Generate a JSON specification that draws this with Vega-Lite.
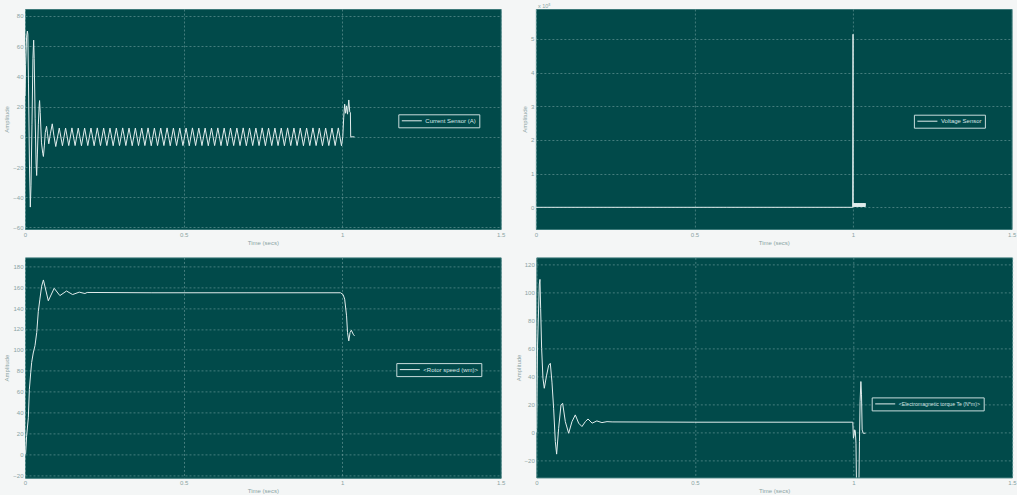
{
  "$schema": "https://vega.github.io/schema/vega-lite/v6.json",
  "background": "#f4f6f6",
  "padding": {"left": 3, "top": 3, "right": 0, "bottom": 0},
  "spacing": 10.4,
  "datasets": {
    "cur": [
      {"t":0,"v":27},{"t":0.002,"v":48},{"t":0.005,"v":66},{"t":0.0074,"v":70},{"t":0.009,"v":68},{"t":0.011,"v":35},{"t":0.014,"v":-18},{"t":0.0168,"v":-46.5},{"t":0.019,"v":-32},{"t":0.022,"v":8},{"t":0.025,"v":52},{"t":0.0273,"v":64},{"t":0.029,"v":52},{"t":0.032,"v":12},{"t":0.035,"v":-18},{"t":0.0368,"v":-25.6},{"t":0.039,"v":-12},{"t":0.042,"v":8},{"t":0.045,"v":22},{"t":0.046,"v":24},{"t":0.048,"v":16},{"t":0.052,"v":-4},{"t":0.056,"v":-11},{"t":0.058,"v":-13},{"t":0.061,"v":-6},{"t":0.064,"v":3},{"t":0.068,"v":7},{"t":0.071,"v":2},{"t":0.075,"v":-4.6},{"t":0.08,"v":2},{"t":0.086,"v":8.6},{"t":0.091,"v":1},{"t":0.097,"v":-6.4},
      {"t":0.108,"v":5.8},{"t":0.118,"v":-5.9},{"t":0.128,"v":5.8},{"t":0.138,"v":-5.8},{"t":0.148,"v":5.9},{"t":0.158,"v":-5.8},{"t":0.168,"v":5.8},{"t":0.178,"v":-5.9},{"t":0.188,"v":5.8},{"t":0.198,"v":-5.8},
      {"t":0.208,"v":5.8},{"t":0.218,"v":-5.9},{"t":0.228,"v":5.9},{"t":0.238,"v":-5.8},{"t":0.248,"v":5.8},{"t":0.258,"v":-5.8},{"t":0.268,"v":5.8},{"t":0.278,"v":-5.9},{"t":0.288,"v":5.8},{"t":0.298,"v":-5.8},
      {"t":0.308,"v":5.9},{"t":0.318,"v":-5.8},{"t":0.328,"v":5.8},{"t":0.338,"v":-5.9},{"t":0.348,"v":5.8},{"t":0.358,"v":-5.8},{"t":0.368,"v":5.8},{"t":0.378,"v":-5.8},{"t":0.388,"v":5.9},{"t":0.398,"v":-5.9},
      {"t":0.408,"v":5.8},{"t":0.418,"v":-5.8},{"t":0.428,"v":5.8},{"t":0.438,"v":-5.8},{"t":0.448,"v":5.9},{"t":0.458,"v":-5.9},{"t":0.468,"v":5.8},{"t":0.478,"v":-5.8},{"t":0.488,"v":5.8},{"t":0.498,"v":-5.8},
      {"t":0.508,"v":5.8},{"t":0.518,"v":-5.9},{"t":0.528,"v":5.9},{"t":0.538,"v":-5.8},{"t":0.548,"v":5.8},{"t":0.558,"v":-5.8},{"t":0.568,"v":5.8},{"t":0.578,"v":-5.9},{"t":0.588,"v":5.8},{"t":0.598,"v":-5.8},
      {"t":0.608,"v":5.9},{"t":0.618,"v":-5.8},{"t":0.628,"v":5.8},{"t":0.638,"v":-5.9},{"t":0.648,"v":5.8},{"t":0.658,"v":-5.8},{"t":0.668,"v":5.8},{"t":0.678,"v":-5.8},{"t":0.688,"v":5.9},{"t":0.698,"v":-5.9},
      {"t":0.708,"v":5.8},{"t":0.718,"v":-5.8},{"t":0.728,"v":5.8},{"t":0.738,"v":-5.8},{"t":0.748,"v":5.9},{"t":0.758,"v":-5.9},{"t":0.768,"v":5.8},{"t":0.778,"v":-5.8},{"t":0.788,"v":5.8},{"t":0.798,"v":-5.8},
      {"t":0.808,"v":5.8},{"t":0.818,"v":-5.9},{"t":0.828,"v":5.9},{"t":0.838,"v":-5.8},{"t":0.848,"v":5.8},{"t":0.858,"v":-5.8},{"t":0.868,"v":5.8},{"t":0.878,"v":-5.9},{"t":0.888,"v":5.8},{"t":0.898,"v":-5.8},
      {"t":0.908,"v":5.9},{"t":0.918,"v":-5.8},{"t":0.928,"v":5.8},{"t":0.938,"v":-5.9},{"t":0.948,"v":5.8},{"t":0.958,"v":-5.8},{"t":0.968,"v":5.8},{"t":0.978,"v":-5.8},{"t":0.988,"v":5.9},{"t":0.998,"v":-5.9},
      {"t":1.002,"v":0},{"t":1.005,"v":13},{"t":1.008,"v":21.6},{"t":1.011,"v":15.6},{"t":1.014,"v":20.5},{"t":1.017,"v":15},{"t":1.021,"v":24.4},{"t":1.024,"v":16.5},{"t":1.026,"v":16},{"t":1.027,"v":0},{"t":1.039,"v":0}
    ],
    "volt": [
      {"t":0,"v":0},{"t":0.3,"v":0},{"t":0.6,"v":0},{"t":0.999,"v":0},{"t":1.0,"v":514000},{"t":1.0005,"v":2000},
      {"t":1.001,"v":12000},{"t":1.002,"v":1500},{"t":1.003,"v":12000},{"t":1.004,"v":1500},{"t":1.005,"v":12000},{"t":1.006,"v":1500},{"t":1.007,"v":12000},{"t":1.008,"v":1500},{"t":1.009,"v":12000},{"t":1.01,"v":1500},
      {"t":1.011,"v":12000},{"t":1.012,"v":1500},{"t":1.013,"v":12000},{"t":1.014,"v":1500},{"t":1.015,"v":12000},{"t":1.016,"v":1500},{"t":1.017,"v":12000},{"t":1.018,"v":1500},{"t":1.019,"v":12000},{"t":1.02,"v":1500},
      {"t":1.021,"v":12000},{"t":1.022,"v":1500},{"t":1.023,"v":12000},{"t":1.024,"v":1500},{"t":1.025,"v":12000},{"t":1.026,"v":1500},{"t":1.027,"v":12000},{"t":1.028,"v":1500},{"t":1.029,"v":12000},{"t":1.03,"v":1500},
      {"t":1.031,"v":12000},{"t":1.032,"v":1500},{"t":1.033,"v":12000},{"t":1.034,"v":1500},{"t":1.035,"v":12000},{"t":1.036,"v":1500},{"t":1.037,"v":12000},{"t":1.038,"v":1500},{"t":1.039,"v":12000}
    ],
    "speed": [
      {"t":0,"v":0},{"t":0.002,"v":0.5},{"t":0.005,"v":17},{"t":0.0105,"v":35},{"t":0.0137,"v":62},{"t":0.018,"v":78},{"t":0.021,"v":88},{"t":0.026,"v":97},{"t":0.0315,"v":104},{"t":0.037,"v":116.6},{"t":0.042,"v":137},{"t":0.047,"v":148.6},{"t":0.0525,"v":161},{"t":0.058,"v":167},{"t":0.0735,"v":147},{"t":0.092,"v":159},{"t":0.11,"v":152},{"t":0.131,"v":156.4},{"t":0.15,"v":153},{"t":0.171,"v":155.3},{"t":0.189,"v":154},{"t":0.196,"v":155},{"t":0.4,"v":154.7},{"t":0.7,"v":154.7},{"t":0.995,"v":154.7},{"t":1.003,"v":153},{"t":1.008,"v":148.6},{"t":1.014,"v":132.6},{"t":1.017,"v":116.6},{"t":1.021,"v":108.6},{"t":1.025,"v":116.6},{"t":1.029,"v":118.8},{"t":1.035,"v":115},{"t":1.039,"v":113.4}
    ],
    "torque": [
      {"t":0,"v":0},{"t":0.001,"v":3},{"t":0.004,"v":62.5},{"t":0.0095,"v":106},{"t":0.0116,"v":109.3},{"t":0.0137,"v":88.6},{"t":0.0168,"v":60},{"t":0.021,"v":38.7},{"t":0.0252,"v":31.6},{"t":0.0326,"v":41},{"t":0.039,"v":48},{"t":0.0442,"v":49.4},{"t":0.0494,"v":36},{"t":0.0547,"v":17},{"t":0.06,"v":-6.4},{"t":0.0641,"v":-15.4},{"t":0.0704,"v":3},{"t":0.0778,"v":19.7},{"t":0.0831,"v":20.9},{"t":0.0915,"v":7.8},{"t":0.102,"v":-0.5},{"t":0.1125,"v":7.8},{"t":0.123,"v":12.6},{"t":0.1335,"v":6.7},{"t":0.144,"v":4.3},{"t":0.1546,"v":7.8},{"t":0.163,"v":9.7},{"t":0.176,"v":6.7},{"t":0.191,"v":8.3},{"t":0.207,"v":7.1},{"t":0.223,"v":7.8},{"t":0.239,"v":7.6},{"t":0.5,"v":7.4},{"t":0.998,"v":7.4},{"t":1.0,"v":-4},{"t":1.002,"v":-2},{"t":1.004,"v":2},{"t":1.006,"v":1},{"t":1.008,"v":-7.6},{"t":1.011,"v":-60},{"t":1.016,"v":-60},{"t":1.019,"v":-6.4},{"t":1.021,"v":22},{"t":1.0235,"v":36.4},{"t":1.0255,"v":26.9},{"t":1.0275,"v":1.9},{"t":1.031,"v":-0.5},{"t":1.038,"v":-0.5}
    ]
  },
  "resolve": {"scale": {"color": "independent"}, "legend": {"color": "independent"}},
  "vconcat": [
    {
      "hconcat": [
        {
          "width": 475.7, "height": 220,
          "data": {"name": "cur"},
          "mark": {"type": "line", "color": "#e2eded", "strokeWidth": 1, "clip": true},
          "encoding": {
            "x": {"field": "t", "type": "quantitative", "scale": {"domain": [0, 1.5], "nice": false, "zero": false}, "axis": {"values": [0, 0.5, 1, 1.5], "format": "~g", "title": "Time (secs)"}},
            "y": {"field": "v", "type": "quantitative", "scale": {"domain": [-61, 84.6], "nice": false, "zero": false}, "axis": {"values": [-60, -40, -20, 0, 20, 40, 60, 80], "title": "Amplitude"}},
            "color": {"datum": "Current Sensor (A)", "type": "nominal", "scale": {"range": ["#e2eded"]}, "legend": {"orient": "none", "legendX": 373.3, "legendY": 105.3}}
          }
        },
        {
          "width": 475.7, "height": 220,
          "title": {"text": "x 10⁵", "anchor": "start", "frame": "group", "fontSize": 5.5, "fontWeight": "normal", "color": "#8aa3a3", "offset": 0, "dx": 2, "font": "Liberation Sans"},
          "data": {"name": "volt"},
          "mark": {"type": "line", "color": "#e2eded", "strokeWidth": 1, "clip": true},
          "encoding": {
            "x": {"field": "t", "type": "quantitative", "scale": {"domain": [0, 1.5], "nice": false, "zero": false}, "axis": {"values": [0, 0.5, 1, 1.5], "format": "~g", "title": "Time (secs)"}},
            "y": {"field": "v", "type": "quantitative", "scale": {"domain": [-64470, 589100], "nice": false, "zero": false}, "axis": {"values": [0, 100000, 200000, 300000, 400000, 500000], "labelExpr": "datum.value / 100000", "title": "Amplitude"}},
            "color": {"datum": "Voltage Sensor", "type": "nominal", "scale": {"range": ["#e2eded"]}, "legend": {"orient": "none", "legendX": 378, "legendY": 105.7}}
          }
        }
      ],
      "spacing": 14.9,
      "resolve": {"scale": {"color": "independent"}, "legend": {"color": "independent"}}
    },
    {
      "hconcat": [
        {
          "width": 475.7, "height": 220.4,
          "data": {"name": "speed"},
          "mark": {"type": "line", "color": "#e2eded", "strokeWidth": 1, "clip": true},
          "encoding": {
            "x": {"field": "t", "type": "quantitative", "scale": {"domain": [0, 1.5], "nice": false, "zero": false}, "axis": {"values": [0, 0.5, 1, 1.5], "format": "~g", "title": "Time (secs)"}},
            "y": {"field": "v", "type": "quantitative", "scale": {"domain": [-22.6, 188.6], "nice": false, "zero": false}, "axis": {"values": [-20, 0, 20, 40, 60, 80, 100, 120, 140, 160, 180], "title": "Amplitude"}},
            "color": {"datum": "<Rotor speed (wm)>", "type": "nominal", "scale": {"range": ["#e2eded"]}, "legend": {"orient": "none", "legendX": 371.3, "legendY": 105.7}}
          }
        },
        {
          "width": 475.7, "height": 220,
          "data": {"name": "torque"},
          "mark": {"type": "line", "color": "#e2eded", "strokeWidth": 1, "clip": true},
          "encoding": {
            "x": {"field": "t", "type": "quantitative", "scale": {"domain": [0, 1.5], "nice": false, "zero": false}, "axis": {"values": [0, 0.5, 1, 1.5], "format": "~g", "title": "Time (secs)"}},
            "y": {"field": "v", "type": "quantitative", "scale": {"domain": [-32, 125], "nice": false, "zero": false}, "axis": {"values": [-20, 0, 20, 40, 60, 80, 100, 120], "title": "Amplitude"}},
            "color": {"datum": "<Electromagnetic torque Te (N*m)>", "type": "nominal", "scale": {"range": ["#e2eded"]}, "legend": {"orient": "none", "legendX": 335.4, "legendY": 140, "labelFontSize": 5.2}}
          }
        }
      ],
      "spacing": 8.3,
      "resolve": {"scale": {"color": "independent"}, "legend": {"color": "independent"}}
    }
  ],
  "config": {
    "font": "Liberation Sans",
    "view": {"fill": "#014a4a", "stroke": "#3d7a7a", "strokeWidth": 1},
    "axis": {
      "labelFont": "Liberation Sans", "titleFont": "Liberation Sans",
      "labelFontSize": 6, "labelColor": "#8aa3a3",
      "titleFontSize": 6, "titleFontWeight": "normal", "titleColor": "#8aa3a3",
      "ticks": false, "domain": false,
      "grid": true, "gridColor": "#80aaaa", "gridDash": [2, 2], "gridWidth": 0.6, "gridOpacity": 0.9
    },
    "axisX": {"labelFlush": false, "labelPadding": 2, "titlePadding": 2},
    "axisY": {"labelPadding": 2, "titlePadding": 3},
    "legend": {
      "title": null,
      "fillColor": "#014a4a", "strokeColor": "#c8dcdc", "padding": 3,
      "symbolType": "M-1,0H5.67", "symbolSize": 36, "symbolStrokeWidth": 1, "symbolFillColor": "transparent",
      "labelFont": "Liberation Sans", "labelFontSize": 6, "labelColor": "#d8e6e6", "labelOffset": 17
    }
  }
}
